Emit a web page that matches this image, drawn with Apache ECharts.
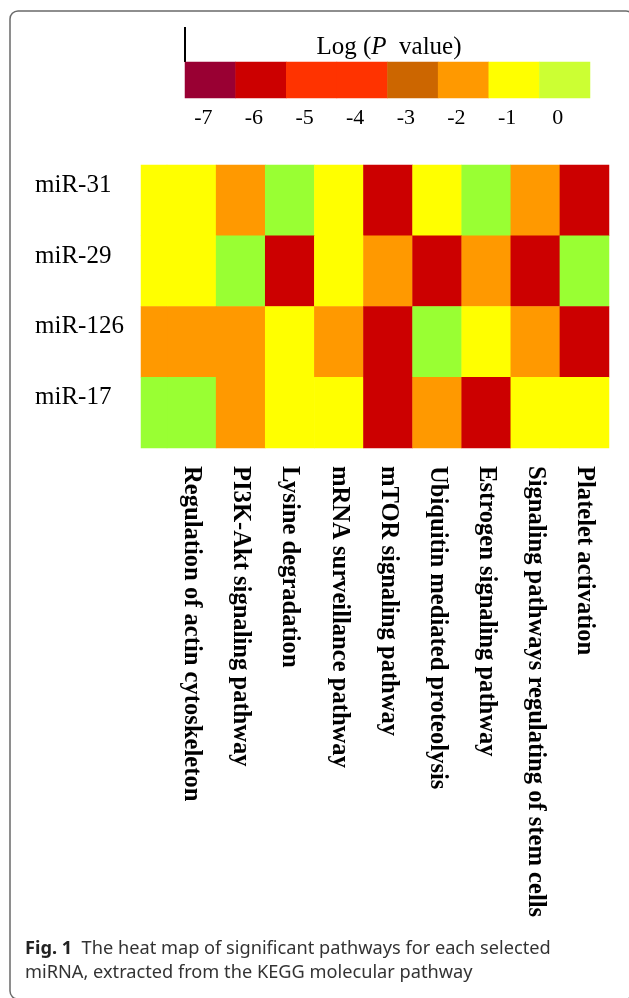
<!DOCTYPE html>
<html>
<head>
<meta charset="utf-8">
<script src="https://cdn.jsdelivr.net/npm/echarts@6/dist/echarts.min.js"></script>
<style>
html,body{margin:0;padding:0;background:#fff;}
#chart{width:629px;height:998px;}
</style>
</head>
<body>
<div id="chart"></div>
<script>
// ---- data ----
const pathways = [
  'Regulation of actin cytoskeleton',
  'PI3K-Akt signaling pathway',
  'Lysine degradation',
  'mRNA surveillance pathway',
  'mTOR signaling pathway',
  'Ubiquitin mediated proteolysis',
  'Estrogen signaling pathway',
  'Signaling pathways regulating of stem cells',
  'Platelet activation'
];
const mirnas = ['miR-31', 'miR-29', 'miR-126', 'miR-17'];
// Log(P value) per pathway, for each miRNA
const miR31  = [-1, -2,  0, -1, -6, -1,  0, -2, -6];
const miR29  = [-1,  0, -6, -1, -2, -6, -2, -6,  0];
const miR126 = [-2, -2, -1, -2, -6,  0, -1, -2, -6];
const miR17  = [ 0, -2, -1, -1, -6, -2, -6, -1, -1];
const legendTicks = [-7, -6, -5, -4, -3, -2, -1, 0];
const legendColors = ['#990033', '#CC0000', '#FF3300', '#FF3300', '#CC6600', '#FF9900', '#FFFF00', '#CCFF33'];
const cellColors = { '0': '#99FF33', '-1': '#FFFF00', '-2': '#FF9900', '-6': '#CC0000' };

// ---- build ----
const rows = [miR31, miR29, miR126, miR17];
const mainData = [];
rows.forEach((r, yi) => r.forEach((v, xi) => mainData.push([xi, yi, v])));
const extData = rows.map((r, yi) => [0, yi, r[0]]);
const legendData = legendTicks.map((v, i) => [i, 0, v]);

const serif = 'Liberation Serif, Times New Roman, serif';
const sans = 'Noto Sans, Open Sans, sans-serif';

const chart = echarts.init(document.getElementById('chart'), null, { renderer: 'canvas' });
chart.setOption({
  animation: false,
  backgroundColor: '#fff',
  grid: [
    { left: 167, top: 165, width: 442, height: 283 },   // main heatmap
    { left: 141, top: 165, width: 26, height: 283 },    // left extension of first column
    { left: 185, top: 62, width: 405, height: 36 }      // colour key
  ],
  xAxis: [
    {
      type: 'category', gridIndex: 0, data: pathways, position: 'bottom',
      axisLine: { show: false }, axisTick: { show: false }, splitLine: { show: false },
      axisLabel: {
        rotate: -90, margin: 18, interval: 0,
        fontFamily: serif, fontWeight: 'bold', fontSize: 24.6, color: '#000'
      }
    },
    {
      type: 'category', gridIndex: 1, data: [pathways[0]], show: false
    },
    {
      type: 'category', gridIndex: 2, data: legendTicks.map(String),
      axisLine: { show: false }, axisTick: { show: false }, splitLine: { show: false },
      axisLabel: {
        interval: 0, margin: 9, padding: [0, 14, 0, 0],
        fontFamily: serif, fontSize: 22, color: '#000'
      }
    }
  ],
  yAxis: [
    {
      type: 'category', gridIndex: 0, data: mirnas, inverse: true,
      axisLine: { show: false }, axisTick: { show: false }, splitLine: { show: false },
      axisLabel: { show: false }
    },
    {
      type: 'category', gridIndex: 1, data: mirnas, inverse: true,
      axisLine: { show: false }, axisTick: { show: false }, splitLine: { show: false },
      axisLabel: {
        align: 'left', verticalAlign: 'bottom', lineHeight: 30, margin: 106,
        fontFamily: serif, fontSize: 25, color: '#000'
      }
    },
    {
      type: 'category', gridIndex: 2, data: [''], show: false
    }
  ],
  visualMap: [
    {
      type: 'piecewise', show: false, seriesIndex: [0, 1], dimension: 2,
      pieces: Object.keys(cellColors).map(k => ({ value: Number(k), color: cellColors[k] }))
    },
    {
      type: 'piecewise', show: false, seriesIndex: [2], dimension: 2,
      pieces: legendTicks.map((v, i) => ({ value: v, color: legendColors[i] }))
    }
  ],
  series: [
    { type: 'heatmap', xAxisIndex: 0, yAxisIndex: 0, data: mainData, itemStyle: { borderWidth: 0 }, emphasis: { disabled: true } },
    { type: 'heatmap', xAxisIndex: 1, yAxisIndex: 1, data: extData, itemStyle: { borderWidth: 0 }, emphasis: { disabled: true } },
    { type: 'heatmap', xAxisIndex: 2, yAxisIndex: 2, data: legendData, itemStyle: { borderWidth: 0 }, emphasis: { disabled: true } }
  ],
  graphic: [
    {
      type: 'rect', silent: true,
      shape: { x: 10, y: 11, width: 624, height: 988, r: 8 },
      style: { fill: 'none', stroke: '#6a6a6a', lineWidth: 1.5 }
    },
    {
      type: 'line', silent: true,
      shape: { x1: 185, y1: 27, x2: 185, y2: 62 },
      style: { stroke: '#000', lineWidth: 2 }
    },
    {
      type: 'text', silent: true, x: 389, y: 35,
      style: {
        text: '{n|Log (}{i|P}{n|  value)}',
        align: 'center', verticalAlign: 'top',
        rich: {
          n: { fontFamily: serif, fontSize: 25, fill: '#000' },
          i: { fontFamily: serif, fontSize: 25, fontStyle: 'italic', fill: '#000' }
        }
      }
    },
    {
      type: 'text', silent: true, x: 25, y: 937,
      style: {
        text: '{b|Fig. 1}{n|  The heat map of significant pathways for each selected}\n{n|miRNA, extracted from the KEGG molecular pathway}',
        align: 'left', verticalAlign: 'top',
        rich: {
          b: { fontFamily: sans, fontSize: 18.2, fontWeight: 'bold', fill: '#222', lineHeight: 24 },
          n: { fontFamily: sans, fontSize: 18.2, fill: '#333', lineHeight: 24 }
        }
      }
    }
  ]
});
</script>
</body>
</html>
